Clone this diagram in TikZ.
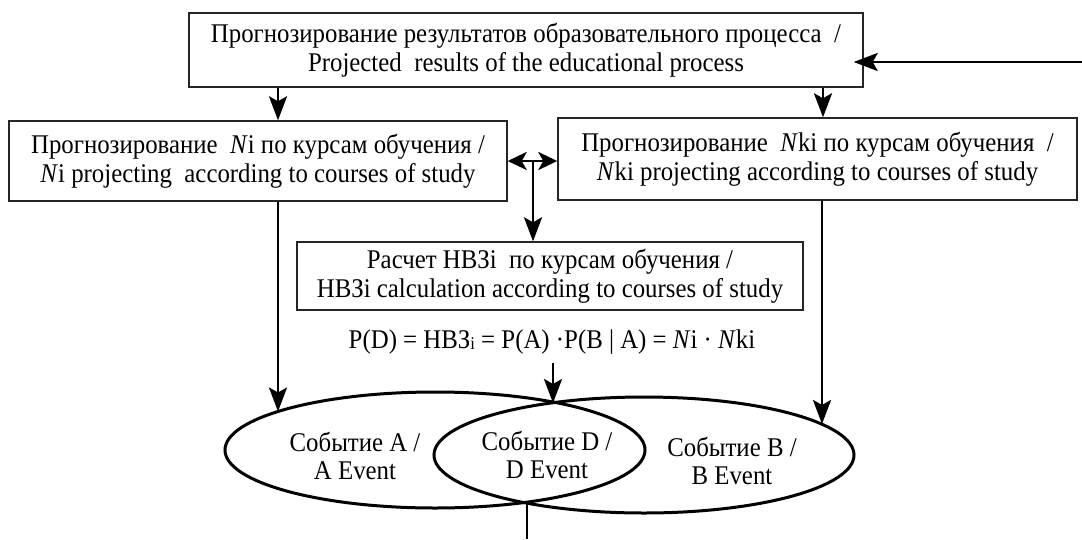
\documentclass[tikz,border=0pt]{standalone}
\usepackage{fontspec}
\setmainfont{Liberation Serif}[FakeStretch=0.92]
\usetikzlibrary{arrows.meta,shapes.geometric}
\begin{document}
\begin{tikzpicture}[x=1pt,y=-1pt,
  box/.style={draw=black!85, line width=1.4pt, inner sep=0pt, align=center, font=\fontsize{27}{29}\selectfont},
  arr/.style={line width=2.8pt, -{Stealth[length=24pt,width=18pt,inset=5pt]}},
  dbl/.style={line width=2.8pt, {Stealth[length=19pt,width=18pt,inset=5pt]}-{Stealth[length=19pt,width=18pt,inset=5pt]}},
  ev/.style={draw, ellipse, line width=3pt, minimum width=420pt, minimum height=116pt, inner sep=0pt},
  lbl/.style={font=\fontsize{27}{28}\selectfont, align=center, inner sep=0pt}]
\fill[white] (0,0) rectangle (1082,539);
\useasboundingbox (0,0) rectangle (1082,539);

% boxes
\node[box, minimum width=674pt, minimum height=74pt] (top) at (526,50)
  {Прогнозирование результатов образовательного процесса~ /\\ Projected~ results of the educational process};
\node[box, minimum width=498pt, minimum height=80pt] (lft) at (258,161)
  {Прогнозирование~ \textit{N}i по курсам обучения /\\ \textit{N}i projecting~ according to courses of study};
\node[box, minimum width=519pt, minimum height=82pt] (rgt) at (817.5,159)
  {Прогнозирование~ \textit{N}ki по курсам обучения~ /\\ \textit{N}ki projecting according to courses of study};
\node[box, minimum width=506pt, minimum height=68pt] (mbox) at (550,276)
  {Расчет НВЗi~ по курсам обучения /\\ НВЗi calculation according to courses of study};

% formula
\node[lbl] (form) at (552,342)
  {P(D) = НВЗ\raisebox{-1pt}{\fontsize{18}{18}\selectfont i} = P(A) ·P(B | A) = \textit{N}i · \textit{N}ki};

% events
\node[ev] (evA) at (435,450) {};
\node[ev] (evB) at (644,455) {};
\node[lbl] (tA) at (355,456) {Событие A /\\A Event};
\node[lbl] (tD) at (547,455) {Событие D /\\D Event};
\node[lbl] (tB) at (732,461) {Событие B /\\B Event};

% helper coordinates
\coordinate (rin) at (1082,62);
\coordinate (xL) at (278,0);
\coordinate (xR) at (823,0);
\coordinate (jn) at (533,161);
\coordinate (pA) at (278,411.5);
\coordinate (pB) at (822,424);
\coordinate (tI) at (553,403);
\coordinate (fS) at (553,363);
\coordinate (bI) at (527,503);
\coordinate (bot) at (527,539);

% connectors
\draw[arr, shorten >=-10pt] (rin) -- (rin -| top.east);
\draw[arr] (top.south -| xL) -- (xL |- lft.north);
\draw[arr] (top.south -| xR) -- (xR |- rgt.north);
\draw[dbl] (lft.east) -- (lft.east -| rgt.west);
\draw[arr] (jn) -- (jn |- mbox.north);
\draw[arr] (lft.south -| pA) -- (pA);
\draw[arr] (rgt.south -| pB) -- (pB);
\draw[arr] (fS) -- (tI);
\draw[line width=2.8pt] (bI) -- (bot);
\end{tikzpicture}
\end{document}
